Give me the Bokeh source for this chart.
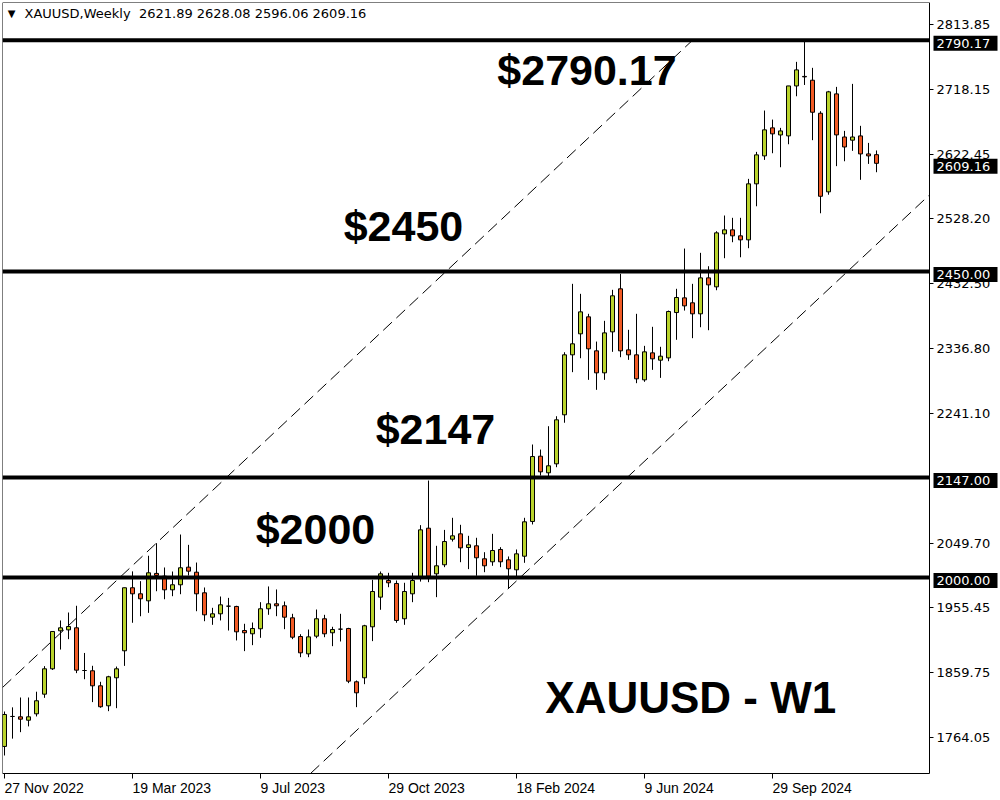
from bokeh.plotting import figure
from bokeh.models import ColumnDataSource, FixedTicker, Label, Range1d, LinearAxis
from bokeh.core.properties import value
from bokeh.embed import file_html
from bokeh.resources import INLINE

# ---------------- data ----------------
opens = [1751.5, 1795.6, 1795.1, 1790.1, 1799.5, 1828.4, 1865.7, 1921.6, 1923.0, 1926.0,
         1863.2, 1862.8, 1840.7, 1811.3, 1852.5, 1892.2, 1984.9, 1976.0, 1965.7, 2006.0,
         2002.0, 1981.9, 1989.3, 2015.2, 2007.8, 1977.5, 1941.6, 1946.6, 1957.8, 1957.4,
         1922.0, 1917.2, 1924.6, 1954.0, 1961.3, 1958.4, 1940.7, 1913.2, 1887.7, 1913.7,
         1939.3, 1918.7, 1924.0, 1925.0, 1846.6, 1852.5, 1927.5, 1971.1, 1995.6, 1991.2,
         1939.3, 1976.0, 1998.5, 2072.5, 2005.4, 2018.7, 2056.3, 2064.2, 2044.1, 2046.6,
         2027.5, 2023.1, 2041.2, 2026.0, 2011.3, 2031.3, 2082.4, 2178.4, 2154.0, 2167.2,
         2239.3, 2327.5, 2358.4, 2383.4, 2333.4, 2301.0, 2361.3, 2424.6, 2334.8, 2327.5,
         2290.7, 2330.4, 2319.6, 2323.0, 2389.7, 2411.3, 2404.0, 2387.8, 2440.7, 2427.5,
         2505.4, 2511.3, 2502.5, 2496.6, 2579.0, 2620.1, 2661.3, 2650.9, 2649.5, 2723.0,
         2737.0, 2731.4, 2682.8, 2567.2, 2711.3, 2647.9, 2643.2, 2649.5, 2623.0, 2621.89]
highs = [1802.9, 1809.0, 1823.5, 1823.5, 1832.0, 1869.6, 1921.0, 1936.8, 1948.5, 1958.4,
         1889.0, 1870.1, 1846.6, 1855.4, 1869.0, 1985.0, 2009.0, 1994.6, 2032.0, 2050.5,
         2014.7, 2008.8, 2063.2, 2048.0, 2022.0, 1985.3, 1955.4, 1972.0, 1970.0, 1958.4,
         1931.9, 1933.8, 1963.7, 1986.8, 1982.4, 1964.7, 1946.6, 1916.6, 1923.5, 1952.9,
         1945.1, 1927.5, 1946.6, 1926.0, 1848.5, 1930.4, 1996.6, 2008.8, 2006.9, 1995.6,
         1992.2, 2006.9, 2077.0, 2142.6, 2046.6, 2070.0, 2087.8, 2077.5, 2061.3, 2058.4,
         2037.2, 2064.2, 2044.6, 2030.9, 2041.2, 2087.8, 2195.6, 2188.2, 2222.5, 2237.2,
         2331.3, 2431.9, 2417.2, 2387.8, 2347.0, 2377.5, 2423.1, 2446.6, 2364.3, 2387.8,
         2340.7, 2368.7, 2339.3, 2392.6, 2424.6, 2483.8, 2431.9, 2477.5, 2457.8, 2509.3,
         2532.4, 2529.0, 2529.0, 2586.3, 2626.0, 2686.8, 2673.5, 2661.3, 2723.0, 2758.4,
         2790.17, 2749.6, 2685.8, 2715.7, 2721.6, 2656.9, 2726.0, 2664.3, 2639.2, 2628.08]
lows = [1738.2, 1763.0, 1772.5, 1781.0, 1795.6, 1823.0, 1864.0, 1894.0, 1909.3, 1859.3,
        1850.4, 1816.7, 1808.4, 1803.4, 1807.8, 1870.0, 1933.4, 1943.0, 1948.0, 1979.8,
        1968.0, 1972.5, 1975.4, 2002.9, 1950.4, 1935.7, 1930.4, 1936.8, 1922.0, 1907.4,
        1891.7, 1900.5, 1911.3, 1945.1, 1943.1, 1924.0, 1909.3, 1882.8, 1882.8, 1910.7,
        1912.2, 1899.0, 1905.9, 1844.6, 1809.3, 1843.1, 1906.4, 1952.5, 1985.7, 1933.4,
        1930.4, 1963.7, 1994.0, 1993.1, 1971.1, 2015.2, 2052.9, 2022.5, 2012.3, 2002.5,
        2007.8, 2017.2, 2015.2, 1983.4, 1999.0, 2021.6, 2078.0, 2150.0, 2146.0, 2162.2,
        2227.6, 2302.0, 2322.5, 2290.7, 2276.0, 2290.7, 2331.9, 2324.0, 2320.1, 2285.8,
        2287.8, 2305.4, 2293.6, 2318.1, 2349.6, 2392.6, 2352.0, 2368.1, 2363.7, 2422.5,
        2469.6, 2493.1, 2471.0, 2484.3, 2546.0, 2614.2, 2624.0, 2603.4, 2637.2, 2707.8,
        2724.4, 2643.2, 2535.7, 2563.0, 2605.0, 2612.2, 2627.5, 2584.9, 2608.3, 2596.06]
closes = [1798.5, 1795.6, 1791.6, 1795.1, 1818.7, 1865.7, 1920.6, 1926.0, 1927.9, 1863.7,
          1863.2, 1840.7, 1809.9, 1854.0, 1865.7, 1984.9, 1976.0, 1968.7, 2006.9, 2003.0,
          1981.9, 1989.3, 2014.3, 2009.3, 1976.0, 1945.1, 1946.6, 1959.8, 1957.8, 1920.1,
          1918.7, 1925.0, 1954.0, 1961.3, 1958.4, 1941.6, 1912.2, 1889.2, 1912.7, 1939.3,
          1917.2, 1923.5, 1924.0, 1847.5, 1830.4, 1929.0, 1979.4, 2005.4, 1992.2, 1936.8,
          1979.4, 1995.6, 2070.1, 2001.9, 2017.2, 2052.9, 2061.3, 2043.6, 2048.1, 2029.0,
          2017.2, 2039.7, 2023.1, 2012.8, 2034.8, 2081.9, 2177.9, 2155.4, 2164.3, 2231.9,
          2327.5, 2343.7, 2390.7, 2336.3, 2301.0, 2359.8, 2414.3, 2333.4, 2327.5, 2292.2,
          2331.9, 2321.6, 2325.5, 2391.2, 2411.8, 2399.5, 2387.8, 2440.7, 2430.4, 2506.9,
          2511.3, 2502.5, 2496.6, 2579.0, 2621.6, 2658.4, 2652.5, 2656.8, 2723.0, 2746.6,
          2736.3, 2684.3, 2560.7, 2714.3, 2651.0, 2633.2, 2647.9, 2623.0, 2620.1, 2609.16]

tick_weeks = [0, 16, 32, 48, 64, 80, 96]
tick_labels = ["27 Nov 2022", "19 Mar 2023", "9 Jul 2023", "29 Oct 2023",
               "18 Feb 2024", "9 Jun 2024", "29 Sep 2024"]
price_ticks = [1764.05, 1859.75, 1955.45, 2049.70, 2241.10, 2336.80,
               2432.50, 2528.20, 2622.45, 2718.15, 2813.85]
levels = [2790.17, 2450.00, 2147.00, 2000.00]
level_texts = ["$2790.17", "$2450", "$2147", "$2000"]
last_price = 2609.16
header_text = "XAUUSD,Weekly\u00a0 2621.89 2628.08 2596.06 2609.16"
title_text = "XAUUSD - W1"

# channel (dashed trend lines): week index, price
upper_x = [-0.25, 86.0]
upper_y = [1838.2, 2790.17]
lower_x = [38.25, 115.625]
lower_y = [1711.7, 2562.8]

GREEN = "#b9d32c"
RED = "#f15a24"

# chart area: weeks X0..X1, prices Y0..Y1; price axis area to the right, dates below
X0, X1, XR = -0.25, 115.625, 124.125
Y0, Y1, YB = 1711.7, 2845.7, 1672.0

# ---------------- figure ----------------
p = figure(width=1000, height=800, output_backend="svg", toolbar_location=None,
           x_range=Range1d(X0, XR), y_range=Range1d(YB, Y1),
           x_axis_location="below", y_axis_location="right",
           min_border_left=2, min_border_top=2, min_border_right=3, min_border_bottom=0)
p.xgrid.visible = False
p.ygrid.visible = False
p.outline_line_color = None
p.background_fill_color = "white"
p.border_fill_color = "white"

xs = list(range(len(opens)))
tops = [max(o, c) for o, c in zip(opens, closes)]
bottoms = [min(o, c) for o, c in zip(opens, closes)]
colors = [GREEN if c >= o else RED for o, c in zip(opens, closes)]
src = ColumnDataSource(dict(x=xs, o=opens, h=highs, l=lows, c=closes,
                            top=tops, bottom=bottoms, color=colors))

p.segment(x0="x", y0="l", x1="x", y1="h", source=src, line_color="black", line_width=1)
p.vbar(x="x", width=0.5, top="top", bottom="bottom", source=src,
       fill_color="color", line_color="black", line_width=1)

p.line(upper_x, upper_y, line_color="black", line_width=1, line_dash="12 6")
p.line(lower_x, lower_y, line_color="black", line_width=1, line_dash="12 6")

# horizontal levels across the chart area
p.segment(x0=[X0] * len(levels), x1=[X1] * len(levels), y0=levels, y1=levels,
          line_color="black", line_width=4)

# big annotations
p.text(x=[61.6, 42.4, 46.4, 31.4],
       y=[2747.0, levels[1] + 67.6, levels[2] + 72.1, levels[3] + 72.0],
       text=level_texts,
       text_font=value("Liberation Sans"), text_font_style="bold",
       text_font_size="43px", text_color="black",
       text_align="left", text_baseline="alphabetic")
p.text(x=[67.6], y=[1823.0], text=[title_text],
       text_font=value("Liberation Sans"), text_font_style="bold",
       text_font_size="44px", text_color="black",
       text_align="left", text_baseline="alphabetic")

# price axis (right border of the chart area)
ax = p.yaxis[0]
ax.fixed_location = X1
ax.bounds = (Y0, Y1)
ax.ticker = FixedTicker(ticks=price_ticks)
ax.major_label_overrides = {t: f"{t:.2f}" for t in price_ticks}
ax.major_tick_out = 4
ax.major_tick_in = 0
ax.minor_tick_line_color = None
ax.major_label_standoff = 3
ax.axis_line_color = "black"
ax.major_tick_line_color = "black"
ax.major_label_text_font = "DejaVu Sans"
ax.major_label_text_font_size = "13px"
ax.major_label_text_color = "black"

# date axis (bottom border of the chart area), labels start at their tick
bx = p.xaxis[0]
bx.fixed_location = Y0
bx.bounds = (X0, X1)
bx.ticker = FixedTicker(ticks=tick_weeks)
bx.major_label_overrides = {w: t for w, t in zip(tick_weeks, tick_labels)}
bx.major_label_orientation = -0.0001
bx.major_tick_out = 5
bx.major_tick_in = 0
bx.minor_tick_line_color = None
bx.major_label_standoff = 9
bx.axis_line_color = "black"
bx.major_tick_line_color = "black"
bx.major_label_text_font = "Liberation Sans"
bx.major_label_text_font_size = "14px"
bx.major_label_text_color = "black"

# left and top borders of the chart area
left_border = LinearAxis(fixed_location=X0, bounds=(Y0, Y1), ticker=FixedTicker(ticks=[]),
                         major_tick_line_color=None, minor_tick_line_color=None,
                         axis_line_color="black")
p.add_layout(left_border, "left")
top_border = LinearAxis(fixed_location=Y1, bounds=(X0, X1), ticker=FixedTicker(ticks=[]),
                        major_tick_line_color=None, minor_tick_line_color=None,
                        axis_line_color="black")
p.add_layout(top_border, "above")

# price boxes on the price axis
for lvl in levels + [last_price]:
    p.add_layout(Label(x=116.125, y=lvl, y_offset=-3, text=f"{lvl:.2f}", text_color="white",
                       background_fill_color="black", text_font="DejaVu Sans",
                       text_font_size="13px", text_align="left", text_baseline="middle",
                       padding=dict(left=3, right=9, top=3, bottom=3)))

# header
p.add_layout(Label(x=0.4, y=2829.4, text="\u25bc", text_color="black",
                   text_font="DejaVu Sans", text_font_size="10px",
                   text_align="left", text_baseline="middle"))
p.add_layout(Label(x=2.5, y=2829.4, text=header_text, text_color="black",
                   text_font="DejaVu Sans", text_font_size="13px",
                   text_align="left", text_baseline="middle"))

open("out.html", "w").write(file_html(p, INLINE))
